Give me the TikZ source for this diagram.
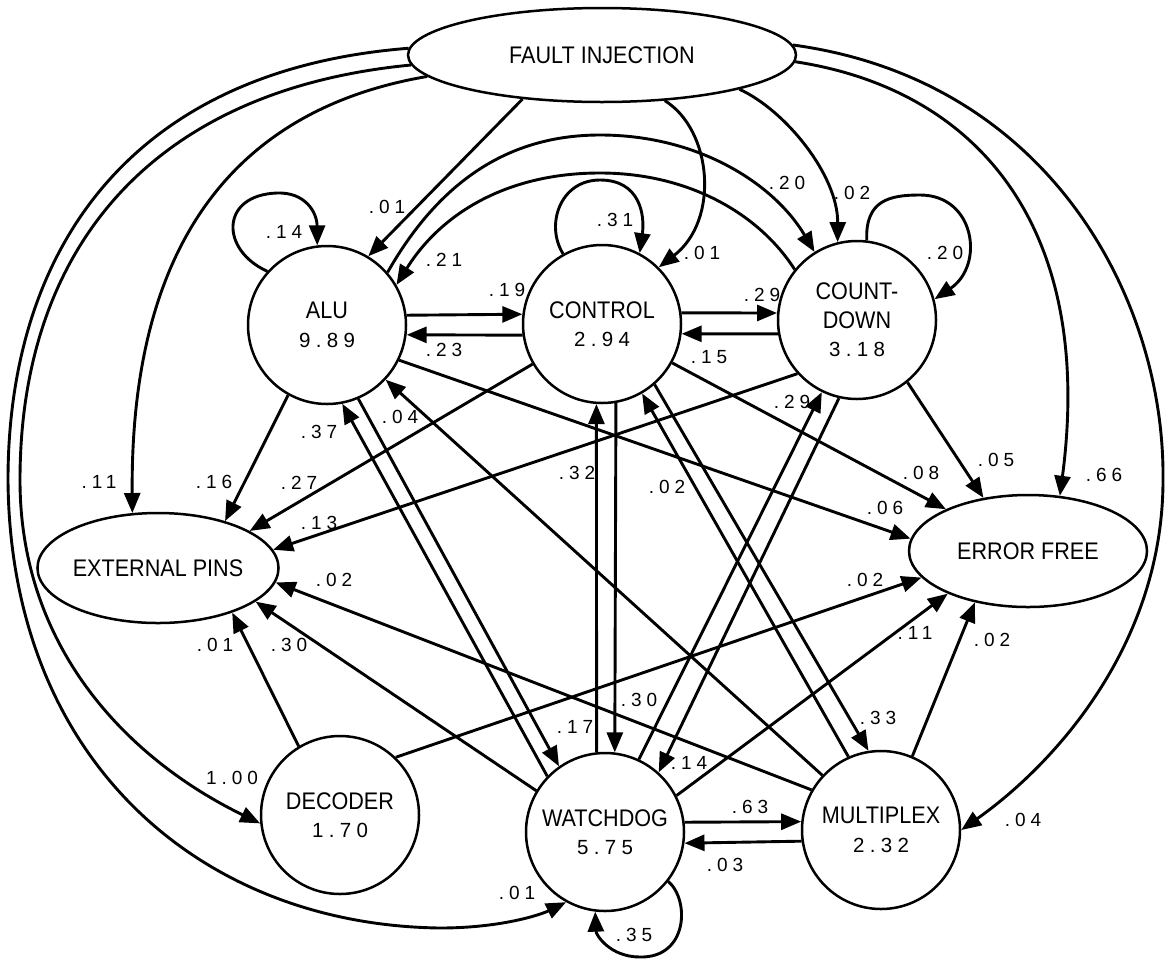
\documentclass[tikz,border=0pt]{standalone}
\usepackage{fontspec}
\usetikzlibrary{arrows.meta,shapes.geometric}
\newfontfamily\namefont[FakeStretch=0.9]{Liberation Sans}
\newfontfamily\numfont[LetterSpace=26]{Liberation Sans}
\newcommand{\nodenum}[1]{{\numfont\fontsize{20.5}{28}\selectfont #1}}
\begin{document}
\begin{tikzpicture}[x=1pt,y=-1pt,
  st/.style={draw, circle, line width=2.5pt, minimum size=158pt, inner sep=0pt, align=center, font=\namefont\fontsize{24}{28.5}\selectfont},
  ov/.style={draw, ellipse, line width=2.5pt, inner sep=0pt, font=\namefont\fontsize{24}{28}\selectfont},
  ed/.style={line width=2.9pt, -{Triangle[length=20pt,width=16pt]}},
  lb/.style={font=\numfont\fontsize{19}{19}\selectfont, inner sep=0pt}]
\useasboundingbox (0,0) rectangle (1166,959);
\fill[white] (0,0) rectangle (1166,959);
% nodes
\node[ov, minimum width=388pt, minimum height=94pt] (fi) at (602,55) {FAULT INJECTION};
\node[st] (alu) at (327,325) {ALU\\\nodenum{9.89}};
\node[st] (ctrl) at (602,324) {CONTROL\\\nodenum{2.94}};
\node[st] (cd) at (857,320) {COUNT-\\DOWN\\\nodenum{3.18}};
\node[ov, minimum width=236pt, minimum height=110pt] (ext) at (158,568) {EXTERNAL PINS};
\node[ov, minimum width=238pt, minimum height=112pt] (ef) at (1028,551) {ERROR FREE};
\node[st] (dec) at (340,815) {DECODER\\\nodenum{1.70}};
\node[st] (wd) at (605,832) {WATCHDOG\\\nodenum{5.75}};
\node[st] (mux) at (881,830) {MULTIPLEX\\\nodenum{2.32}};
% fault injection edges
\draw[ed] (fi.209) -- (alu.59);
\draw[ed] (fi.-36) .. controls (712,130) and (720,220) .. (ctrl.45);
\draw[ed] (fi.-14) .. controls (785,110) and (838,175) .. (cd.104);
\draw[ed] (fi.-2) .. controls (980,90) and (1095,230) .. (ef.60);
\draw[ed] (fi.3) .. controls (1050,80) and (1165,300) .. (1163,480) .. controls (1163,640) and (1060,760) .. (mux.0);
\draw[ed] (fi.187) .. controls (230,110) and (130,250) .. (ext.115);
\draw[ed] (fi.183) .. controls (150,90) and (20,250) .. (20,480) .. controls (20,650) and (130,760) .. (dec.186);
\draw[ed] (fi.178) .. controls (130,70) and (8,250) .. (8,480) .. controls (10,760) and (200,925) .. (440,928) .. controls (500,928) and (540,915) .. (wd.241);
% self loops
\draw[ed] (alu.138) .. controls (220,250) and (220,195) .. (277,193) .. controls (305,192) and (317,212) .. (alu.97);
\draw[ed] (ctrl.119) .. controls (545,225) and (560,180) .. (600,180) .. controls (640,180) and (645,215) .. (ctrl.62);
\draw[ed] (cd.83) .. controls (865,200) and (890,195) .. (920,195) .. controls (975,195) and (985,265) .. (cd.15);
\draw[ed] (wd.-38) .. controls (690,900) and (688,958) .. (640,957) .. controls (610,957) and (596,935) .. (wd.-97);
% horizontal and vertical pairs
\draw[ed] (alu.7) -- (ctrl.173);
\draw[ed] (ctrl.188) -- (alu.-7);
\draw[ed] (ctrl.8) -- (cd.175);
\draw[ed] (cd.190) -- (ctrl.-7);
\draw[ed] (wd.7) -- (mux.174);
\draw[ed] (mux.188) -- (wd.-8);
\draw[ed] (wd.96) -- (ctrl.266);
\draw[ed] (ctrl.280) -- (wd.83);
% diagonals
\draw[ed] (wd.136) -- (alu.-79);
\draw[ed] (alu.-67) -- (wd.125);
\draw[ed] (mux.137) -- (alu.-43);
\draw[ed] (alu.-26) -- (ef.174);
\draw[ed] (ctrl.-29) -- (ef.153);
\draw[ed] (cd.-51) -- (ef.130);
\draw[ed] (dec.46) -- (ef.194);
\draw[ed] (wd.27) -- (ef.208);
\draw[ed] (mux.67) -- (ef.224);
\draw[ed] (alu.241) -- (ext.35);
\draw[ed] (ctrl.210) -- (ext.22);
\draw[ed] (cd.222) -- (ext.9);
\draw[ed] (mux.150) -- (ext.-7);
\draw[ed] (wd.149) -- (ext.-19);
\draw[ed] (dec.121) -- (ext.-31);
\draw[ed] (alu.41) .. controls (440,180) and (510,135) .. (600,135) .. controls (700,135) and (775,185) .. (cd.122);
\draw[ed] (cd.141) .. controls (760,215) and (690,173) .. (600,173) .. controls (505,173) and (440,215) .. (alu.30);
\draw[ed] (mux.114) -- (ctrl.-60);
\draw[ed] (ctrl.-49) -- (mux.99);
\draw[ed] (wd.65) -- (cd.244);
\draw[ed] (cd.257) -- (wd.48);
% labels
\node[lb] (l1) at (387,207) {.01};
\node[lb] (l2) at (702,253) {.01};
\node[lb] (l3) at (852,193) {.02};
\node[lb] (l4) at (1104,475) {.66};
\node[lb] (l5) at (1023,820) {.04};
\node[lb] (l6) at (99,482) {.11};
\node[lb] (l7) at (232,778) {1.00};
\node[lb] (l8) at (517,893) {.01};
\node[lb] (l9) at (284,232) {.14};
\node[lb] (l10) at (615,220) {.31};
\node[lb] (l11) at (945,253) {.20};
\node[lb] (l12) at (634,935) {.35};
\node[lb] (l13) at (507,290) {.19};
\node[lb] (l14) at (444,350) {.23};
\node[lb] (l15) at (762,295) {.29};
\node[lb] (l16) at (709,357) {.15};
\node[lb] (l17) at (750,807) {.63};
\node[lb] (l18) at (725,865) {.03};
\node[lb] (l19) at (577,473) {.32};
\node[lb] (l20) at (639,700) {.30};
\node[lb] (l21) at (319,432) {.37};
\node[lb] (l22) at (575,727) {.17};
\node[lb] (l23) at (400,417) {.04};
\node[lb] (l24) at (885,508) {.06};
\node[lb] (l25) at (921,473) {.08};
\node[lb] (l26) at (996,460) {.05};
\node[lb] (l27) at (865,580) {.02};
\node[lb] (l28) at (915,633) {.11};
\node[lb] (l29) at (992,640) {.02};
\node[lb] (l30) at (214,482) {.16};
\node[lb] (l31) at (299,483) {.27};
\node[lb] (l32) at (319,523) {.13};
\node[lb] (l33) at (334,580) {.02};
\node[lb] (l34) at (289,645) {.30};
\node[lb] (l35) at (215,645) {.01};
\node[lb] (l36) at (787,183) {.20};
\node[lb] (l37) at (444,260) {.21};
\node[lb] (l38) at (667,487) {.02};
\node[lb] (l39) at (878,718) {.33};
\node[lb] (l40) at (792,402) {.29};
\node[lb] (l41) at (689,763) {.14};
\end{tikzpicture}
\end{document}
